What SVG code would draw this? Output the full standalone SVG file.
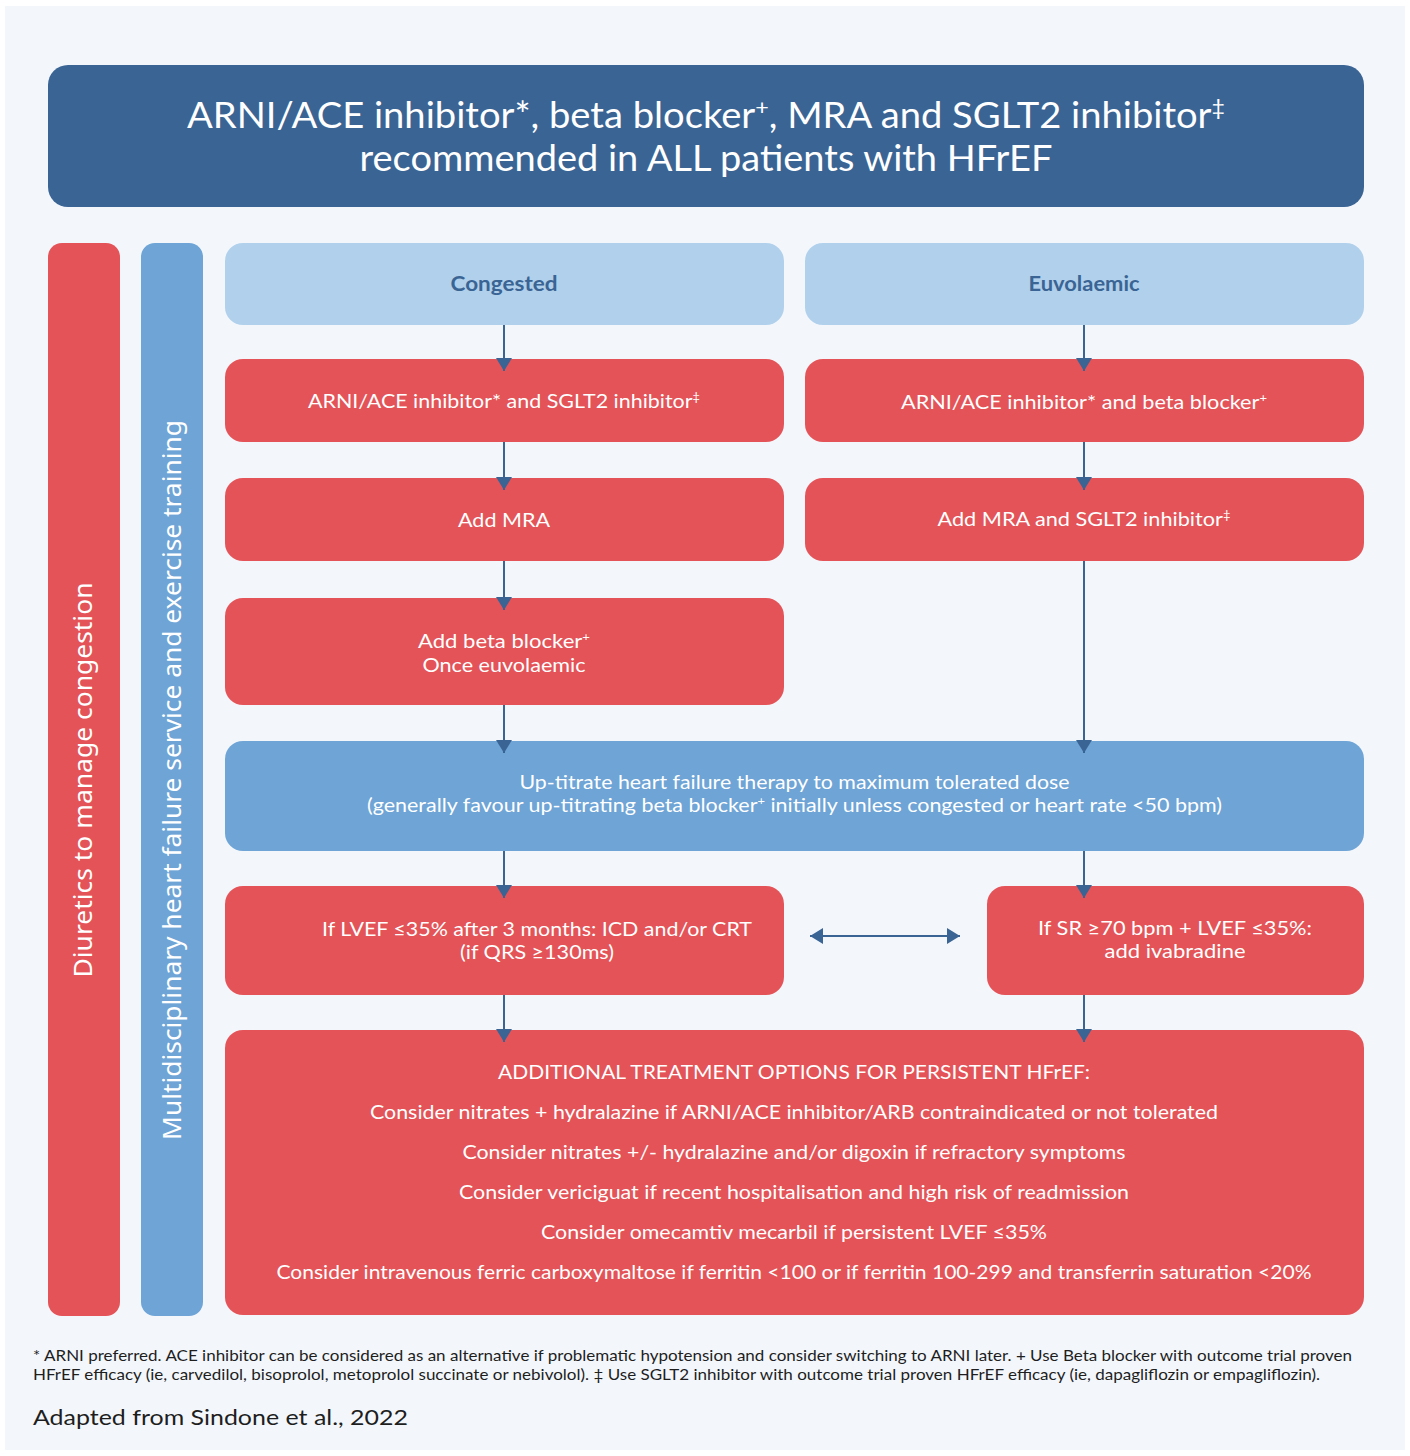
<svg xmlns="http://www.w3.org/2000/svg" width="1410" height="1456" viewBox="0 0 1410 1456">
  <defs>
    <style>
      .panel { fill: #f3f7fc; }
      .title { fill: #3a6494; }
      .red { fill: #e45357; }
      .pale { fill: #b0d0eb; }
      .mid { fill: #6ea4d6; }
      text { font-family: Lato, "Noto Sans", "Liberation Sans", sans-serif; }
      .w { fill: #ffffff; }
      .lbl { font-size: 20px; text-anchor: middle; }
      .head { font-size: 20px; font-weight: bold; fill: #3a6494; text-anchor: middle; }
      .ttl { font-size: 36px; text-anchor: middle; fill: #ffffff; }
      .side { font-size: 26px; text-anchor: middle; fill: #ffffff; font-family: "Noto Sans", "Open Sans", sans-serif; }
      .foot { font-size: 15px; fill: #1e1e1e; }
      .src { font-size: 22px; fill: #1e1e1e; }
      .conn { stroke: #3a6494; stroke-width: 2; fill: none; }
    </style>
    <marker id="tri" markerUnits="userSpaceOnUse" markerWidth="18" markerHeight="18" refX="13" refY="8" orient="auto">
      <path d="M0,0 L13,8 L0,16 Z" fill="#3a6494"/>
    </marker>
    <marker id="triStart" markerUnits="userSpaceOnUse" markerWidth="18" markerHeight="18" refX="0" refY="8" orient="auto">
      <path d="M13,0 L0,8 L13,16 Z" fill="#3a6494"/>
    </marker>
  </defs>

  <rect width="1410" height="1456" fill="#ffffff"/>
  <rect class="panel" x="5" y="6" width="1400" height="1444"/>

  <!-- headline banner -->
  <g id="banner">
    <rect class="title" x="48" y="65" width="1316" height="142" rx="20"/>
    <text class="ttl" x="706" y="128" textLength="1038" lengthAdjust="spacingAndGlyphs">ARNI/ACE inhibitor*, beta blocker<tspan font-size="22" baseline-shift="super">+</tspan>, MRA and SGLT2 inhibitor<tspan font-size="22" baseline-shift="super">‡</tspan></text>
    <text class="ttl" x="706" y="171" textLength="693" lengthAdjust="spacingAndGlyphs">recommended in ALL patients with HFrEF</text>
  </g>

  <!-- side bars -->
  <g id="diuretics">
    <rect class="red" x="48" y="243" width="72" height="1073" rx="14"/>
    <text class="side" transform="translate(92 780) rotate(-90)" x="0" y="0" textLength="395" lengthAdjust="spacingAndGlyphs">Diuretics to manage congestion</text>
  </g>
  <g id="mdt">
    <rect class="mid" x="141" y="243" width="62" height="1073" rx="14"/>
    <text class="side" transform="translate(181 780) rotate(-90)" x="0" y="0" textLength="720" lengthAdjust="spacingAndGlyphs">Multidisciplinary heart failure service and exercise training</text>
  </g>

  <!-- column headers -->
  <g id="congested">
    <rect class="pale" x="225" y="243" width="559" height="82" rx="18"/>
    <text class="head" x="504" y="291" textLength="107" lengthAdjust="spacingAndGlyphs">Congested</text>
  </g>
  <g id="euvolaemic">
    <rect class="pale" x="805" y="243" width="559" height="82" rx="18"/>
    <text class="head" x="1084" y="291" textLength="111" lengthAdjust="spacingAndGlyphs">Euvolaemic</text>
  </g>

  <!-- congested pathway -->
  <g id="c-step1">
    <rect class="red" x="225" y="359" width="559" height="83" rx="18"/>
    <text class="lbl w" x="504" y="408" textLength="392" lengthAdjust="spacingAndGlyphs">ARNI/ACE inhibitor* and SGLT2 inhibitor<tspan font-size="12" baseline-shift="super">‡</tspan></text>
  </g>
  <g id="c-step2">
    <rect class="red" x="225" y="478" width="559" height="83" rx="18"/>
    <text class="lbl w" x="504" y="527" textLength="92" lengthAdjust="spacingAndGlyphs">Add MRA</text>
  </g>
  <g id="c-step3">
    <rect class="red" x="225" y="598" width="559" height="107" rx="18"/>
    <text class="lbl w" x="504" y="648" textLength="172" lengthAdjust="spacingAndGlyphs">Add beta blocker<tspan font-size="12" baseline-shift="super">+</tspan></text>
    <text class="lbl w" x="504" y="672" textLength="163" lengthAdjust="spacingAndGlyphs">Once euvolaemic</text>
  </g>

  <!-- euvolaemic pathway -->
  <g id="e-step1">
    <rect class="red" x="805" y="359" width="559" height="83" rx="18"/>
    <text class="lbl w" x="1084" y="409" textLength="366" lengthAdjust="spacingAndGlyphs">ARNI/ACE inhibitor* and beta blocker<tspan font-size="12" baseline-shift="super">+</tspan></text>
  </g>
  <g id="e-step2">
    <rect class="red" x="805" y="478" width="559" height="83" rx="18"/>
    <text class="lbl w" x="1084" y="526" textLength="293" lengthAdjust="spacingAndGlyphs">Add MRA and SGLT2 inhibitor<tspan font-size="12" baseline-shift="super">‡</tspan></text>
  </g>

  <!-- up-titration -->
  <g id="uptitrate">
    <rect class="mid" x="225" y="741" width="1139" height="110" rx="18"/>
    <text class="lbl w" x="794.5" y="789" textLength="550" lengthAdjust="spacingAndGlyphs">Up-titrate heart failure therapy to maximum tolerated dose</text>
    <text class="lbl w" x="794.5" y="812" textLength="855" lengthAdjust="spacingAndGlyphs">(generally favour up-titrating beta blocker<tspan font-size="12" baseline-shift="super">+</tspan> initially unless congested or heart rate &lt;50 bpm)</text>
  </g>

  <!-- device therapy / ivabradine -->
  <g id="device">
    <rect class="red" x="225" y="886" width="559" height="109" rx="18"/>
    <text class="lbl w" x="537" y="936" textLength="430" lengthAdjust="spacingAndGlyphs">If LVEF ≤35% after 3 months: ICD and/or CRT</text>
    <text class="lbl w" x="537" y="959" textLength="154" lengthAdjust="spacingAndGlyphs">(if QRS ≥130ms)</text>
  </g>
  <g id="ivabradine">
    <rect class="red" x="987" y="886" width="377" height="109" rx="18"/>
    <text class="lbl w" x="1175" y="935" textLength="274" lengthAdjust="spacingAndGlyphs">If SR ≥70 bpm + LVEF ≤35%:</text>
    <text class="lbl w" x="1175" y="958" textLength="141" lengthAdjust="spacingAndGlyphs">add ivabradine</text>
  </g>

  <!-- additional options -->
  <g id="additional">
    <rect class="red" x="225" y="1030" width="1139" height="285" rx="18"/>
    <text class="lbl w" x="794" y="1079" textLength="592" lengthAdjust="spacingAndGlyphs">ADDITIONAL TREATMENT OPTIONS FOR PERSISTENT HFrEF:</text>
    <text class="lbl w" x="794" y="1119" textLength="848" lengthAdjust="spacingAndGlyphs">Consider nitrates + hydralazine if ARNI/ACE inhibitor/ARB contraindicated or not tolerated</text>
    <text class="lbl w" x="794" y="1159" textLength="663" lengthAdjust="spacingAndGlyphs">Consider nitrates +/- hydralazine and/or digoxin if refractory symptoms</text>
    <text class="lbl w" x="794" y="1199" textLength="670" lengthAdjust="spacingAndGlyphs">Consider vericiguat if recent hospitalisation and high risk of readmission</text>
    <text class="lbl w" x="794" y="1239" textLength="506" lengthAdjust="spacingAndGlyphs">Consider omecamtiv mecarbil if persistent LVEF ≤35%</text>
    <text class="lbl w" x="794" y="1279" textLength="1035" lengthAdjust="spacingAndGlyphs">Consider intravenous ferric carboxymaltose if ferritin &lt;100 or if ferritin 100-299 and transferrin saturation &lt;20%</text>
  </g>

  <!-- connectors (drawn last so arrowheads sit over box edges) -->
  <g id="connectors">
    <line class="conn" x1="504" y1="325" x2="504" y2="371" marker-end="url(#tri)"/>
    <line class="conn" x1="504" y1="442" x2="504" y2="490" marker-end="url(#tri)"/>
    <line class="conn" x1="504" y1="561" x2="504" y2="610" marker-end="url(#tri)"/>
    <line class="conn" x1="504" y1="705" x2="504" y2="753" marker-end="url(#tri)"/>
    <line class="conn" x1="1084" y1="325" x2="1084" y2="371" marker-end="url(#tri)"/>
    <line class="conn" x1="1084" y1="442" x2="1084" y2="490" marker-end="url(#tri)"/>
    <line class="conn" x1="1084" y1="561" x2="1084" y2="753" marker-end="url(#tri)"/>
    <line class="conn" x1="504" y1="851" x2="504" y2="898" marker-end="url(#tri)"/>
    <line class="conn" x1="1084" y1="851" x2="1084" y2="898" marker-end="url(#tri)"/>
    <line class="conn" x1="504" y1="995" x2="504" y2="1042" marker-end="url(#tri)"/>
    <line class="conn" x1="1084" y1="995" x2="1084" y2="1042" marker-end="url(#tri)"/>
    <line class="conn" x1="810" y1="936" x2="960" y2="936" marker-start="url(#triStart)" marker-end="url(#tri)"/>
  </g>

  <!-- footnotes -->
  <g id="footnotes">
    <text class="foot" x="33" y="1361" textLength="1319" lengthAdjust="spacingAndGlyphs">* ARNI preferred. ACE inhibitor can be considered as an alternative if problematic hypotension and consider switching to ARNI later. + Use Beta blocker with outcome trial proven</text>
    <text class="foot" x="33" y="1380" textLength="1287" lengthAdjust="spacingAndGlyphs">HFrEF efficacy (ie, carvedilol, bisoprolol, metoprolol succinate or nebivolol). ‡ Use SGLT2 inhibitor with outcome trial proven HFrEF efficacy (ie, dapagliflozin or empagliflozin).</text>
    <text class="src" x="33" y="1425" textLength="375" lengthAdjust="spacingAndGlyphs">Adapted from Sindone et al., 2022</text>
  </g>
</svg>
